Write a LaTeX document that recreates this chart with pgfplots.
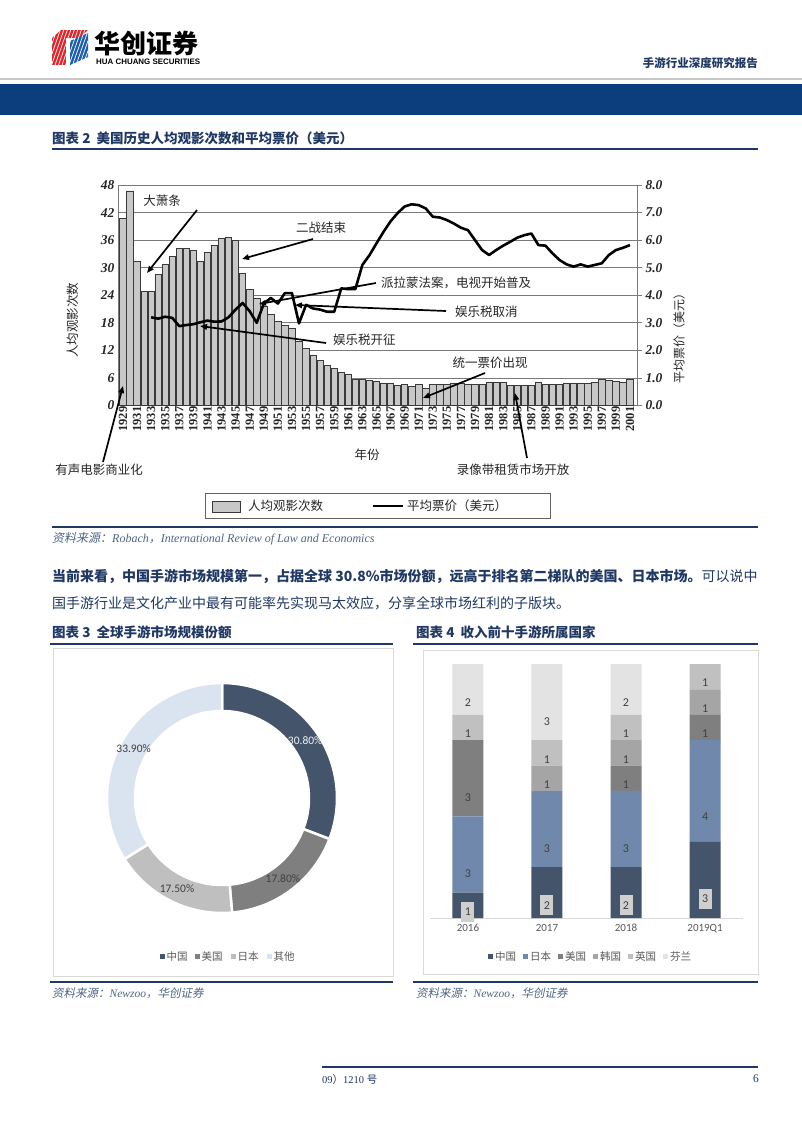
\documentclass[border=0pt]{standalone}
\usepackage{fontspec}
\usepackage{graphicx}
\usepackage{pgfplots}
\pgfplotsset{compat=1.18}
\usepackage{pgfplotstable}
\usetikzlibrary{arrows.meta}
\setmainfont{Liberation Serif}
\setsansfont{Liberation Sans}
\newfontfamily\cjk{Noto Sans CJK SC}
\newfontfamily\cjkit[FakeSlant=0.2]{Noto Sans CJK SC}
\newfontfamily\calfont{Carlito}

\definecolor{navy}{HTML}{1F3864}
\definecolor{bandblue}{HTML}{0C3D7D}
\definecolor{rulegray}{HTML}{C8C8C8}
\definecolor{srcgray}{HTML}{506585}
\definecolor{barfill}{HTML}{C8C8C8}
\definecolor{bardraw}{HTML}{3A3A3A}
\definecolor{gridgray}{HTML}{7A7A7A}
\definecolor{boxline}{HTML}{D9D9D9}
\definecolor{labgray}{HTML}{404040}
\definecolor{leggray}{HTML}{595959}
\definecolor{piec0}{HTML}{44546A}
\definecolor{piec1}{HTML}{7F7F7F}
\definecolor{piec2}{HTML}{BFBFBF}
\definecolor{piec3}{HTML}{DAE3F0}
\definecolor{pielab0}{HTML}{F2F2F2}
\definecolor{pielab1}{HTML}{404040}
\definecolor{pielab2}{HTML}{404040}
\definecolor{pielab3}{HTML}{404040}
\definecolor{ccn}{HTML}{44546A}
\definecolor{cjp}{HTML}{7088AC}
\definecolor{cus}{HTML}{7F7F7F}
\definecolor{ckr}{HTML}{A5A5A5}
\definecolor{cuk}{HTML}{C0C0C0}
\definecolor{cfi}{HTML}{E3E3E3}
\definecolor{boxgray}{HTML}{CFCFCF}
\definecolor{logored}{HTML}{E0262B}
\definecolor{logoblue}{HTML}{1C5FB0}

\pgfplotstableread{
year att
1929 40.7
1930 46.7
1931 31.4
1932 24.9
1933 24.9
1934 28.6
1935 30.7
1936 32.5
1937 34.2
1938 34.2
1939 33.8
1940 31.4
1941 33.3
1942 34.8
1943 36.4
1944 36.6
1945 36.0
1946 28.8
1947 25.3
1948 23.3
1949 21.5
1950 19.9
1951 18.3
1952 17.4
1953 16.7
1954 13.9
1955 12.5
1956 11.0
1957 9.9
1958 8.8
1959 8.1
1960 7.2
1961 6.7
1962 5.8
1963 5.6
1964 5.4
1965 5.2
1966 4.9
1967 4.9
1968 4.3
1969 4.5
1970 4.1
1971 4.5
1972 3.8
1973 4.6
1974 4.6
1975 4.5
1976 4.9
1977 4.9
1978 4.6
1979 4.5
1980 4.5
1981 5.1
1982 5.1
1983 5.1
1984 4.3
1985 4.3
1986 4.3
1987 4.3
1988 5.1
1989 4.6
1990 4.5
1991 4.5
1992 4.9
1993 4.9
1994 4.9
1995 4.9
1996 5.1
1997 5.6
1998 5.4
1999 5.2
2000 5.1
2001 5.6
}\attdata

\pgfplotstableread{
year price
1933 3.20
1934 3.15
1935 3.22
1936 3.18
1937 2.88
1938 2.92
1939 2.95
1940 3.02
1941 3.08
1942 3.04
1943 3.05
1944 3.20
1945 3.48
1946 3.72
1947 3.42
1948 3.00
1949 3.70
1950 3.90
1951 3.70
1952 4.08
1953 4.08
1954 2.98
1955 3.65
1956 3.52
1957 3.48
1958 3.40
1959 3.40
1960 4.25
1961 4.22
1962 4.22
1963 5.10
1964 5.45
1965 5.88
1966 6.30
1967 6.68
1968 6.98
1969 7.22
1970 7.30
1971 7.27
1972 7.15
1973 6.85
1974 6.82
1975 6.73
1976 6.60
1977 6.45
1978 6.36
1979 6.00
1980 5.64
1981 5.46
1982 5.64
1983 5.80
1984 5.94
1985 6.09
1986 6.18
1987 6.24
1988 5.82
1989 5.80
1990 5.52
1991 5.28
1992 5.12
1993 5.04
1994 5.12
1995 5.04
1996 5.10
1997 5.16
1998 5.46
1999 5.64
2000 5.72
2001 5.82
}\pricedata

\pgfplotstableread{
x cn jp us kr uk fi
0 1 3 3 0 1 2
1 2 3 0 1 1 3
2 2 3 1 1 1 2
3 3 4 1 1 1 0
}\topten

\pgfplotstableread{
share
30.8
17.8
17.5
33.9
}\piedata

\pgfplotsset{
  /pgfplots/calculate offset/.code={%
    \pgfkeys{/pgf/fpu=true,/pgf/fpu/output format=fixed}%
    \pgfmathsetmacro\testmacro{\pgfplotspointmeta*6.35}%
    \pgfkeys{/pgf/fpu=false}%
  },
  vcenter/.style={
    nodes near coords={\pgfmathfloatifflags{\pgfplotspointmeta}{0}{}{\pgfmathprintnumber[assume math mode=true]{\pgfplotspointmeta}}},
    every node near coord/.append style={
      anchor=center, font=\calfont\fontsize{12}{13}\selectfont, text=labgray,
      /pgfplots/calculate offset,
      yshift=-\testmacro pt
    },
  },
}

\begin{document}
\pgfmathsetmacro\cum{90}%
\pgfplotsforeachungrouped \i in {0,1,2,3}{%
  \pgfplotstablegetelem{\i}{share}\of\piedata
  \pgfmathsetmacro\endang{\cum-3.6*\pgfplotsretval}%
  \pgfmathsetmacro\midang{(\cum+\endang)/2}%
  \expandafter\xdef\csname pieS\i\endcsname{\cum}%
  \expandafter\xdef\csname pieE\i\endcsname{\endang}%
  \expandafter\xdef\csname pieM\i\endcsname{\midang}%
  \expandafter\xdef\csname pieV\i\endcsname{\pgfplotsretval}%
  \global\let\cum\endang
}%
\begin{tikzpicture}
\path[use as bounding box] (0pt,0pt) rectangle (802pt,-1133pt);
\begin{scope}[x=1pt,y=-1pt]
  \fill[white] (0,0) rectangle (802,1133);
  % logo
  \begin{scope}
    \clip (52,30) rectangle (88,65);
    \fill[logored] (52,38) -- (61,30) -- (88,30) -- (79,38) -- cycle;
    \fill[logored] (52,38) -- (66,38) -- (66,65) -- (52,65) -- cycle;
    \fill[logoblue] (70,41) -- (88,33) -- (88,57) -- (70,65) -- cycle;
    \foreach \k in {0,...,14} \draw[white, line width=0.7pt] (40+\k*3.5,68) -- ++(14,-40);
  \end{scope}
  \node[anchor=west, inner sep=0pt, font=\cjk\bfseries\fontsize{26}{28}\selectfont] at (94,44) {华创证券};
  \node[anchor=west, inner sep=0pt] at (96,62) {\resizebox{104pt}{!}{\sffamily\bfseries\fontsize{8}{9}\selectfont HUA CHUANG SECURITIES}};
  \node[anchor=east, inner sep=0pt, text=navy, font=\cjk\bfseries\fontsize{11.5}{13}\selectfont] at (758,63) {手游行业深度研究报告};
  \draw[rulegray, line width=2pt] (0,79) -- (802,79);
  \fill[bandblue] (0,84) rectangle (802,115);
  % title 2
  \node[anchor=west, inner sep=0pt, text=navy, font=\cjk\bfseries\fontsize{13.5}{15}\selectfont] at (52,138) {图表 2\hspace{6pt}美国历史人均观影次数和平均票价（美元）};
  \draw[navy, line width=1.5pt] (52,149) -- (758,149);
  % source 1
  \draw[navy, line width=1.2pt] (52,527) -- (758,527);
  \node[anchor=west, inner sep=0pt, text=srcgray, font=\fontsize{12}{13}\selectfont] at (52,539) {{\cjkit 资料来源：}\textit{Robach}{\cjkit ，}\textit{International Review of Law and Economics}};
  % paragraph
  \node[anchor=west, inner sep=0pt, text=navy, font=\cjk\fontsize{14}{16}\selectfont] at (52,577) {{\bfseries 当前来看，中国手游市场规模第一，占据全球 30.8\%市场份额，远高于排名第二梯队的美国、日本市场。}可以说中};
  \node[anchor=west, inner sep=0pt, text=navy, font=\cjk\fontsize{14}{16}\selectfont] at (52,603) {国手游行业是文化产业中最有可能率先实现马太效应，分享全球市场红利的子版块。};
  % titles 3, 4
  \node[anchor=west, inner sep=0pt, text=navy, font=\cjk\bfseries\fontsize{13.5}{15}\selectfont] at (52,632) {图表 3\hspace{6pt}全球手游市场规模份额};
  \node[anchor=west, inner sep=0pt, text=navy, font=\cjk\bfseries\fontsize{13.5}{15}\selectfont] at (416,632) {图表 4\hspace{6pt}收入前十手游所属国家};
  \draw[navy, line width=1.5pt] (50,644) -- (393,644);
  \draw[navy, line width=1.5pt] (413,644) -- (758,644);
  \draw[boxline, line width=0.8pt] (53,648) rectangle (393,976);
  \draw[boxline, line width=0.8pt] (423,650) rectangle (758,974);
  \draw[navy, line width=1.2pt] (50,982) -- (393,982);
  \draw[navy, line width=1.2pt] (413,982) -- (758,982);
  \node[anchor=west, inner sep=0pt, text=srcgray, font=\fontsize{11.5}{13}\selectfont] at (52,993) {{\cjkit 资料来源：}\textit{Newzoo}{\cjkit ，华创证券}};
  \node[anchor=west, inner sep=0pt, text=srcgray, font=\fontsize{11.5}{13}\selectfont] at (416,993) {{\cjkit 资料来源：}\textit{Newzoo}{\cjkit ，华创证券}};
  % footer
  \draw[navy, line width=1.5pt] (322,1067) -- (758,1067);
  \node[anchor=west, inner sep=0pt, text=navy, font=\fontsize{10.5}{12}\selectfont] at (322,1079) {09{\cjk ）}1210 {\cjk 号}};
  \node[anchor=east, inner sep=0pt, text=navy, font=\fontsize{11.5}{12}\selectfont] at (759,1079) {6};
\end{scope}

% ---------- chart 2: bars ----------
\begin{axis}[
  at={(118pt,-405.5pt)}, anchor=south west,
  scale only axis, width=519pt, height=220.5pt,
  xmin=1928.3, xmax=2002, ymin=0, ymax=48,
  enlargelimits=false,
  axis lines*=left,
  axis line style={draw=gridgray, line width=0.8pt},
  ymajorgrids, grid style={draw=gridgray, line width=0.8pt},
  ytick={0,6,...,48},
  xtick={1929,1931,...,2001},
  ytick style={draw=none},
  xtick style={draw=none},
  /pgf/number format/assume math mode=true,
  /pgf/number format/1000 sep={},
  yticklabel style={font=\bfseries\itshape\fontsize{13.5}{14}\selectfont, text=black!85},
  xticklabel style={rotate=90, anchor=east, font=\bfseries\fontsize{12.5}{13}\selectfont, inner sep=1pt, text=black!85},
]
\addplot[ybar, bar width=6.4pt, fill=barfill, draw=bardraw, line width=0.7pt] table[x=year,y=att]{\attdata};
\end{axis}

% ---------- chart 2: price line ----------
\begin{axis}[
  at={(118pt,-405.5pt)}, anchor=south west,
  scale only axis, width=519pt, height=220.5pt,
  xmin=1928.3, xmax=2002, ymin=0, ymax=8,
  enlargelimits=false,
  axis y line*=right, axis x line=none,
  axis line style={draw=gridgray, line width=0.8pt},
  ytick={0,1,...,8},
  /pgf/number format/assume math mode=true,
  yticklabel={\pgfmathprintnumber[fixed,fixed zerofill,precision=1]{\tick}},
  yticklabel style={font=\bfseries\itshape\fontsize{13.5}{14}\selectfont, text=black!85},
  tick align=outside, major tick length=5pt,
  ytick style={draw=gridgray, line width=0.8pt},
]
\addplot[black, line width=2.6pt, line join=round, mark=none] table[x=year,y=price]{\pricedata};
\end{axis}

% ---------- chart 3: donut ----------
\begin{axis}[
  at={(53pt,-976pt)}, anchor=south west,
  scale only axis, width=340pt, height=328pt,
  xmin=53, xmax=393, ymin=-976, ymax=-648,
  hide axis, clip=false,
]
\addplot[draw=none, mark=none] coordinates {(222,-798)};
\pgfplotsinvokeforeach{0,1,2,3}{
  \fill[fill=piec#1, draw=white, line width=2.5pt]
    (axis cs:222,-798) ++(\csname pieS#1\endcsname:115pt)
    arc[start angle=\csname pieS#1\endcsname, end angle=\csname pieE#1\endcsname, radius=115pt]
    -- ++(\csname pieE#1\endcsname:-28pt)
    arc[start angle=\csname pieE#1\endcsname, end angle=\csname pieS#1\endcsname, radius=87pt]
    -- cycle;
  \path (axis cs:222,-798) ++(\csname pieM#1\endcsname:101pt)
    node[text=pielab#1, font=\calfont\fontsize{11.5}{12}\selectfont]
    {\pgfmathprintnumber[fixed,fixed zerofill,precision=2,assume math mode=true]{\csname pieV#1\endcsname}\%};
}
\end{axis}

% ---------- chart 4: stacked bars ----------
\begin{axis}[
  at={(430pt,-918pt)}, anchor=south west,
  scale only axis, width=313pt, height=254pt,
  xmin=-0.48, xmax=3.48, ymin=0, ymax=10,
  enlargelimits=false,
  ybar stacked, bar width=31pt,
  axis y line=none, axis x line*=bottom,
  x axis line style={draw=boxline, line width=0.8pt},
  xtick={0,1,2,3}, xticklabels={2016,2017,2018,2019Q1},
  xtick style={draw=none},
  /pgf/number format/assume math mode=true,
  xticklabel style={font=\calfont\fontsize{11}{12}\selectfont, text=leggray, text height=8pt, text depth=1pt, yshift=-2pt},
  vcenter,
]
\addplot[fill=ccn, draw=none, every node near coord/.append style={fill=boxgray, minimum width=13pt, minimum height=20pt, inner sep=0pt}] table[x=x,y=cn]{\topten};
\addplot[fill=cjp, draw=none] table[x=x,y=jp]{\topten};
\addplot[fill=cus, draw=none] table[x=x,y=us]{\topten};
\addplot[fill=ckr, draw=none] table[x=x,y=kr]{\topten};
\addplot[fill=cuk, draw=none] table[x=x,y=uk]{\topten};
\addplot[fill=cfi, draw=none] table[x=x,y=fi]{\topten};
\end{axis}

% ---------- annotations, labels, legends ----------
\begin{scope}[x=1pt,y=-1pt]
  \tikzset{ann/.style={-{Triangle[length=7pt,width=5.5pt]}, line width=1.7pt, black},
           antxt/.style={inner sep=0pt, font=\cjk\fontsize{12.5}{14}\selectfont, text=black!85}}
  \node[antxt] at (162,201) {大萧条};
  \draw[ann] (197,210) -- (147,273);
  \node[antxt] at (321,228) {二战结束};
  \draw[ann] (313,239) -- (242,259);
  \node[antxt, anchor=west] at (381,283) {派拉蒙法案，电视开始普及};
  \draw[ann] (376,283) -- (259,304);
  \node[antxt, anchor=west] at (455,312) {娱乐税取消};
  \draw[ann] (446,311) -- (295,305);
  \node[antxt, anchor=west] at (333,340) {娱乐税开征};
  \draw[ann] (326,343) -- (200,326);
  \node[antxt] at (490,363) {统一票价出现};
  \draw[ann] (485,373) -- (423,398);
  \node[antxt] at (513,470) {录像带租赁市场开放};
  \draw[ann] (527,458) -- (515,393);
  \node[antxt] at (99,470) {有声电影商业化};
  \draw[ann] (103,462) -- (123,386);
  % axis titles
  \node[antxt] at (367,455) {年份};
  \node[antxt, rotate=90] at (73,320) {人均观影次数};
  \node[antxt, rotate=90, font=\cjk\fontsize{12}{13}\selectfont] at (679,335) {平均票价（美元）};
  % legend chart 2
  \draw[gridgray!80!black, line width=0.9pt] (205,493) rectangle (550,518);
  \draw[fill=barfill, draw=bardraw, line width=1pt] (212,501) rectangle (240,512);
  \node[antxt, anchor=west] at (248,506) {人均观影次数};
  \draw[black, line width=2.6pt] (373,506) -- (403,506);
  \node[antxt, anchor=west] at (407,506) {平均票价（美元）};
  % legend chart 3
  \foreach \xx/\cc/\tt in {160/piec0/中国, 195/piec1/美国, 231/piec2/日本, 267/piec3/其他} {
    \fill[\cc] (\xx,954) rectangle ++(4.5,4.5);
    \node[anchor=west, inner sep=0pt, font=\cjk\fontsize{10.5}{12}\selectfont, text=leggray] at (\xx+6.5,956.5) {\tt};
  }
  % legend chart 4
  \foreach \xx/\cc/\tt in {488/ccn/中国, 523/cjp/日本, 558/cus/美国, 593/ckr/韩国, 628/cuk/英国, 663/cfi/芬兰} {
    \fill[\cc] (\xx,954) rectangle ++(5,5);
    \node[anchor=west, inner sep=0pt, font=\cjk\fontsize{10.5}{12}\selectfont, text=leggray] at (\xx+7,956.5) {\tt};
  }
\end{scope}
\end{tikzpicture}
\end{document}
